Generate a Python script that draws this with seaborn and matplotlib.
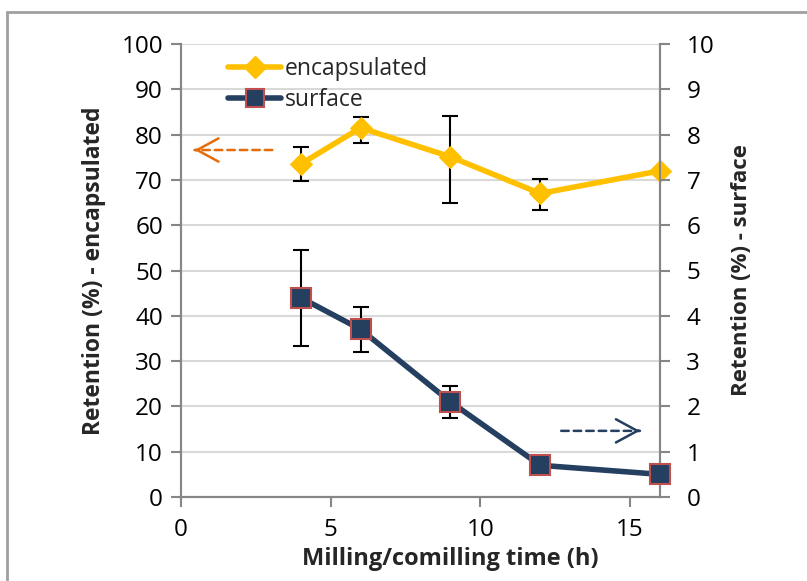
import matplotlib
matplotlib.use("Agg")
import matplotlib.pyplot as plt
import seaborn as sns
import pandas as pd
from matplotlib.patches import Rectangle
from matplotlib.lines import Line2D

# data
time_h = [4, 6, 9, 12, 16]
encapsulated = [73.5, 81.5, 75.1, 67.0, 72.0]
encapsulated_err_low = [3.8, 3.4, 10.1, 3.6, 0.0]
encapsulated_err_high = [3.8, 2.4, 8.9, 3.2, 0.0]
surface = [4.4, 3.7, 2.1, 0.7, 0.5]
surface_err = [1.06, 0.5, 0.35, 0.0, 0.0]
left_ticks = [0, 10, 20, 30, 40, 50, 60, 70, 80, 90, 100]
right_ticks = [0, 1, 2, 3, 4, 5, 6, 7, 8, 9, 10]
x_ticks = [0, 5, 10, 15]

sns.set_theme(style="white")
plt.rcParams['font.family'] = ['Open Sans', 'DejaVu Sans']

df = pd.DataFrame({"time": time_h, "enc": encapsulated, "surf": surface})

fig = plt.figure(figsize=(8.07, 5.81), dpi=100)
ax = fig.add_axes([181/807, 1-497/581, (660-181)/807, (497-44)/581])
ax2 = ax.twinx()

yellow = "#ffc000"
navy = "#243f60"
edge_red = "#c0504d"
gray = "#868686"
TICK_FS = 17.5

# encapsulated on left axis
ax.errorbar(time_h, encapsulated, yerr=[encapsulated_err_low, encapsulated_err_high],
            fmt="none", ecolor="black", elinewidth=1.5, capsize=6, capthick=1.5, zorder=2)
sns.lineplot(data=df, x="time", y="enc", ax=ax, color=yellow, linewidth=4,
             marker="D", markersize=11, markeredgecolor=yellow,
             markerfacecolor=yellow, zorder=3, legend=False)

# surface on right axis
ax2.errorbar(time_h, surface, yerr=surface_err, fmt="none",
             ecolor="black", elinewidth=1.5, capsize=6, capthick=1.5, zorder=2)
sns.lineplot(data=df, x="time", y="surf", ax=ax2, color=navy, linewidth=4,
             marker="s", markersize=14, markeredgecolor=edge_red,
             markeredgewidth=1.5, markerfacecolor=navy, zorder=3, legend=False)
for line in ax.lines + ax2.lines:
    line.set_clip_on(False)

ax.set_xlim(0, 16)
ax.set_ylim(0, 100)
ax2.set_ylim(0, 10)
ax.set_xticks(x_ticks)
ax.set_yticks(left_ticks)
ax2.set_yticks(right_ticks)
ax.set_xticklabels([str(t) for t in x_ticks], fontsize=TICK_FS)
ax.set_yticklabels([str(t) for t in left_ticks], fontsize=TICK_FS)
ax2.set_yticklabels([str(t) for t in right_ticks], fontsize=TICK_FS)

ax.yaxis.grid(True, color="#d9d9d9", linewidth=1.5)
ax.xaxis.grid(False)
ax.set_axisbelow(True)

for a in (ax, ax2):
    a.spines["top"].set_visible(False)
    for s in ("left", "right", "bottom"):
        a.spines[s].set_color(gray)
        a.spines[s].set_linewidth(1.5)
    a.tick_params(axis="both", which="major", length=7, width=1.5,
                  color=gray, direction="out", labelcolor="black")
ax.tick_params(axis="y", left=True, pad=6)
ax.tick_params(axis="x", bottom=True, pad=8)
ax2.tick_params(axis="y", right=True, pad=12)

ax.set_xlabel("Milling/comilling time (h)", fontsize=17, fontweight="bold", labelpad=4)
ax.xaxis.label.set_x((450 - 181) / 479)
ax.set_ylabel("Retention (%) - encapsulated", fontsize=16.5, fontweight="bold", labelpad=11)
ax2.set_ylabel("Retention (%) - surface", fontsize=16, fontweight="bold", labelpad=12)

# arrows: dashed shafts with solid open heads
def dashed_arrow(a, start, tip, color):
    a.annotate("", xy=tip, xytext=start,
               arrowprops=dict(arrowstyle="-", color=color, lw=1.8,
                               linestyle=(0, (3, 2)), shrinkA=0, shrinkB=0))
    dx = (tip[0] - start[0]) * 0.02
    a.annotate("", xy=tip, xytext=(tip[0] - dx, tip[1]),
               arrowprops=dict(arrowstyle="->,head_length=0.7,head_width=0.38",
                               color=color, lw=1.8, shrinkA=0, shrinkB=0,
                               mutation_scale=22))

dashed_arrow(ax, (3.05, 76.6), (0.45, 76.6), "#e46c0a")
dashed_arrow(ax2, (12.7, 1.46), (15.33, 1.46), navy)

handles = [
    Line2D([], [], color=yellow, lw=4, marker="D", markersize=11,
           markerfacecolor=yellow, markeredgecolor=yellow),
    Line2D([], [], color=navy, lw=4, marker="s", markersize=13,
           markerfacecolor=navy, markeredgecolor=edge_red, markeredgewidth=1.5),
]
leg = ax2.legend(handles, ["encapsulated", "surface"], loc="upper left",
                 bbox_to_anchor=(0.08, 0.992), frameon=False, fontsize=16.5,
                 handlelength=2.3, handletextpad=0.15, labelspacing=0.3,
                 borderaxespad=0)

# outer frame
fig.patches.append(Rectangle((7/807, -0.05), 1.0, 1 - 12/581 + 0.05,
                             transform=fig.transFigure, fill=False,
                             edgecolor="#a0a0a0", linewidth=2))

fig.savefig("out.png", dpi=100)
